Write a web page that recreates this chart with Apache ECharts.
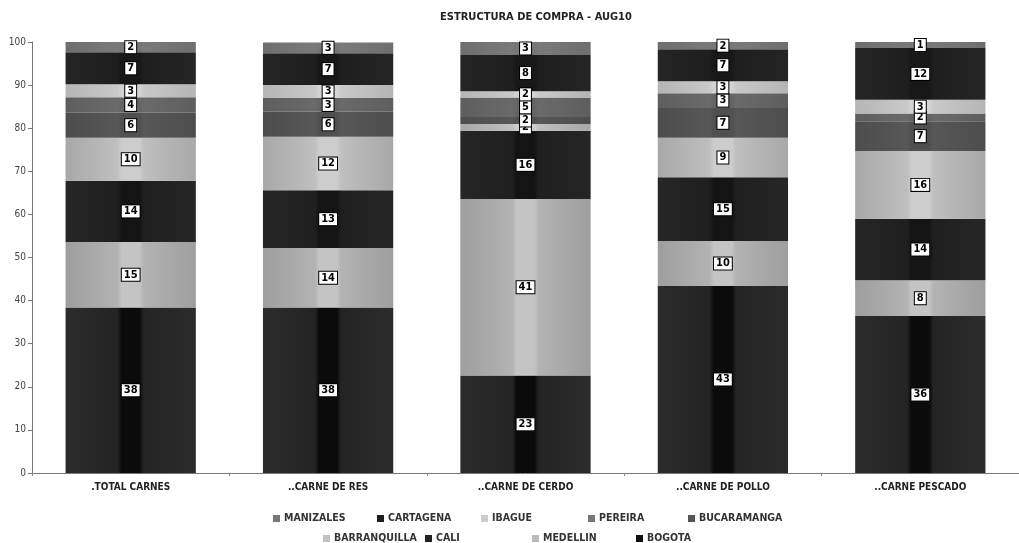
<!DOCTYPE html>
<html>
<head>
<meta charset="utf-8">
<script src="https://cdn.jsdelivr.net/npm/echarts@6/dist/echarts.min.js"></script>
<style>html,body{margin:0;padding:0;background:#fff;}#c{width:1019px;height:543px;}</style>
</head>
<body>
<div id="c"></div>
<script>
const titleText = 'ESTRUCTURA DE COMPRA - AUG10';
const categories = ['.TOTAL CARNES', '..CARNE DE RES', '..CARNE DE CERDO', '..CARNE DE POLLO', '..CARNE PESCADO'];
const yTicks = [0, 10, 20, 30, 40, 50, 60, 70, 80, 90, 100];
// stacked bottom -> top
const BOGOTA       = [38.4, 38.4, 22.6, 43.4, 36.4];
const MEDELLIN     = [15.2, 13.8, 41.0, 10.4, 8.3];
const CALI         = [14.2, 13.4, 15.8, 14.8, 14.3];
const BARRANQUILLA = [10.0, 12.4, 1.6, 9.2, 15.7];
const BUCARAMANGA  = [5.8, 5.8, 1.6, 6.9, 6.9];
const PEREIRA      = [3.6, 3.2, 4.5, 3.4, 1.8];
const IBAGUE       = [3.0, 3.0, 1.5, 2.8, 3.2];
const CARTAGENA    = [7.4, 7.4, 8.4, 7.4, 12.0];
const MANIZALES    = [2.4, 2.5, 3.0, 1.7, 1.4];

const seriesDefs = [
  {name: 'BOGOTA', data: BOGOTA, stops: ['#2b2b2b', '#242424', '#0b0b0b', '#0b0b0b', '#242424', '#2b2b2b'], legend: '#111'},
  {name: 'MEDELLIN', data: MEDELLIN, stops: ['#9e9e9e', '#b3b3b3', '#c4c4c4', '#c4c4c4', '#b3b3b3', '#9e9e9e'], legend: '#bbb'},
  {name: 'CALI', data: CALI, stops: ['#262626', '#1f1f1f', '#141414', '#141414', '#1f1f1f', '#262626'], legend: '#222'},
  {name: 'BARRANQUILLA', data: BARRANQUILLA, stops: ['#a8a8a8', '#bfbfbf', '#cdcdcd', '#cdcdcd', '#bfbfbf', '#a8a8a8'], legend: '#c2c2c2'},
  {name: 'BUCARAMANGA', data: BUCARAMANGA, stops: ['#4d4d4d', '#575757', '#505050', '#505050', '#575757', '#4d4d4d'], legend: '#555'},
  {name: 'PEREIRA', data: PEREIRA, stops: ['#5e5e5e', '#6a6a6a', '#646464', '#646464', '#6a6a6a', '#5e5e5e'], legend: '#777'},
  {name: 'IBAGUE', data: IBAGUE, stops: ['#b5b5b5', '#c9c9c9', '#d3d3d3', '#d3d3d3', '#c9c9c9', '#b5b5b5'], legend: '#ccc'},
  {name: 'CARTAGENA', data: CARTAGENA, stops: ['#252525', '#1e1e1e', '#181818', '#181818', '#1e1e1e', '#252525'], legend: '#1e1e1e'},
  {name: 'MANIZALES', data: MANIZALES, stops: ['#6e6e6e', '#7a7a7a', '#767676', '#767676', '#7a7a7a', '#6e6e6e'], legend: '#777'}
];

const FONT = "'Liberation Sans Narrow', 'DejaVu Sans Condensed', 'Liberation Sans', sans-serif";

function grad(stops) {
  const pos = [0, 0.4, 0.43, 0.57, 0.6, 1];
  return new echarts.graphic.LinearGradient(0, 0, 1, 0, stops.map((c, i) => ({offset: pos[i], color: c})));
}

const series = seriesDefs.map(s => ({
  name: s.name,
  type: 'bar',
  stack: 'total',
  barCategoryGap: '34%',
  data: s.data,
  itemStyle: {color: grad(s.stops)},
  label: {
    show: true,
    position: 'inside',
    formatter: p => Math.round(p.value),
    fontFamily: FONT,
    fontWeight: 'bold',
    fontSize: 11,
    color: '#000',
    backgroundColor: '#fff',
    borderColor: '#000',
    borderWidth: 1,
    padding: [1, 2, 0, 2],
    lineHeight: 11
  },
  emphasis: {disabled: true}
}));

// legend layout: one component per item
const legendPos = [
  ['MANIZALES', 268, 508], ['CARTAGENA', 372, 508], ['IBAGUE', 476, 508], ['PEREIRA', 583, 508], ['BUCARAMANGA', 683, 508],
  ['BARRANQUILLA', 318, 528], ['CALI', 420, 528], ['MEDELLIN', 527, 528], ['BOGOTA', 631, 528]
];
const legendColor = {};
seriesDefs.forEach(s => legendColor[s.name] = s.legend);
const legends = legendPos.map(([n, x, y]) => ({
  data: [{name: n, itemStyle: {color: legendColor[n]}}],
  left: x, top: y,
  icon: 'rect', itemWidth: 7, itemHeight: 7, itemGap: 4,
  textStyle: {fontFamily: FONT, fontWeight: 'bold', fontSize: 10.5, color: '#333', padding: [0, 0, 0, -1]},
  selectedMode: false
}));

const chart = echarts.init(document.getElementById('c'));
chart.setOption({
  animation: false,
  backgroundColor: '#fff',
  title: {
    text: titleText, left: 531, top: 7, textAlign: 'center',
    textStyle: {fontFamily: FONT, fontWeight: 'bold', fontSize: 11, color: '#222'}
  },
  legend: legends,
  grid: {left: 32, right: -14, top: 42, bottom: 70},
  xAxis: {
    type: 'category', data: categories,
    axisLine: {lineStyle: {color: '#777', width: 1}},
    axisTick: {show: true, alignWithLabel: false, length: 3, lineStyle: {color: '#888'}},
    axisLabel: {fontFamily: FONT, fontWeight: 'bold', fontSize: 10, color: '#222', margin: 9}
  },
  yAxis: {
    type: 'value', min: 0, max: 100, interval: 10,
    axisLine: {show: true, lineStyle: {color: '#777', width: 1}},
    axisTick: {show: true, length: 4, lineStyle: {color: '#777'}},
    axisLabel: {fontFamily: FONT, fontSize: 10, color: '#444', margin: 6,
      formatter: v => yTicks.includes(v) ? String(v) : ''},
    splitLine: {show: false}
  },
  series: series
});
</script>
</body>
</html>
